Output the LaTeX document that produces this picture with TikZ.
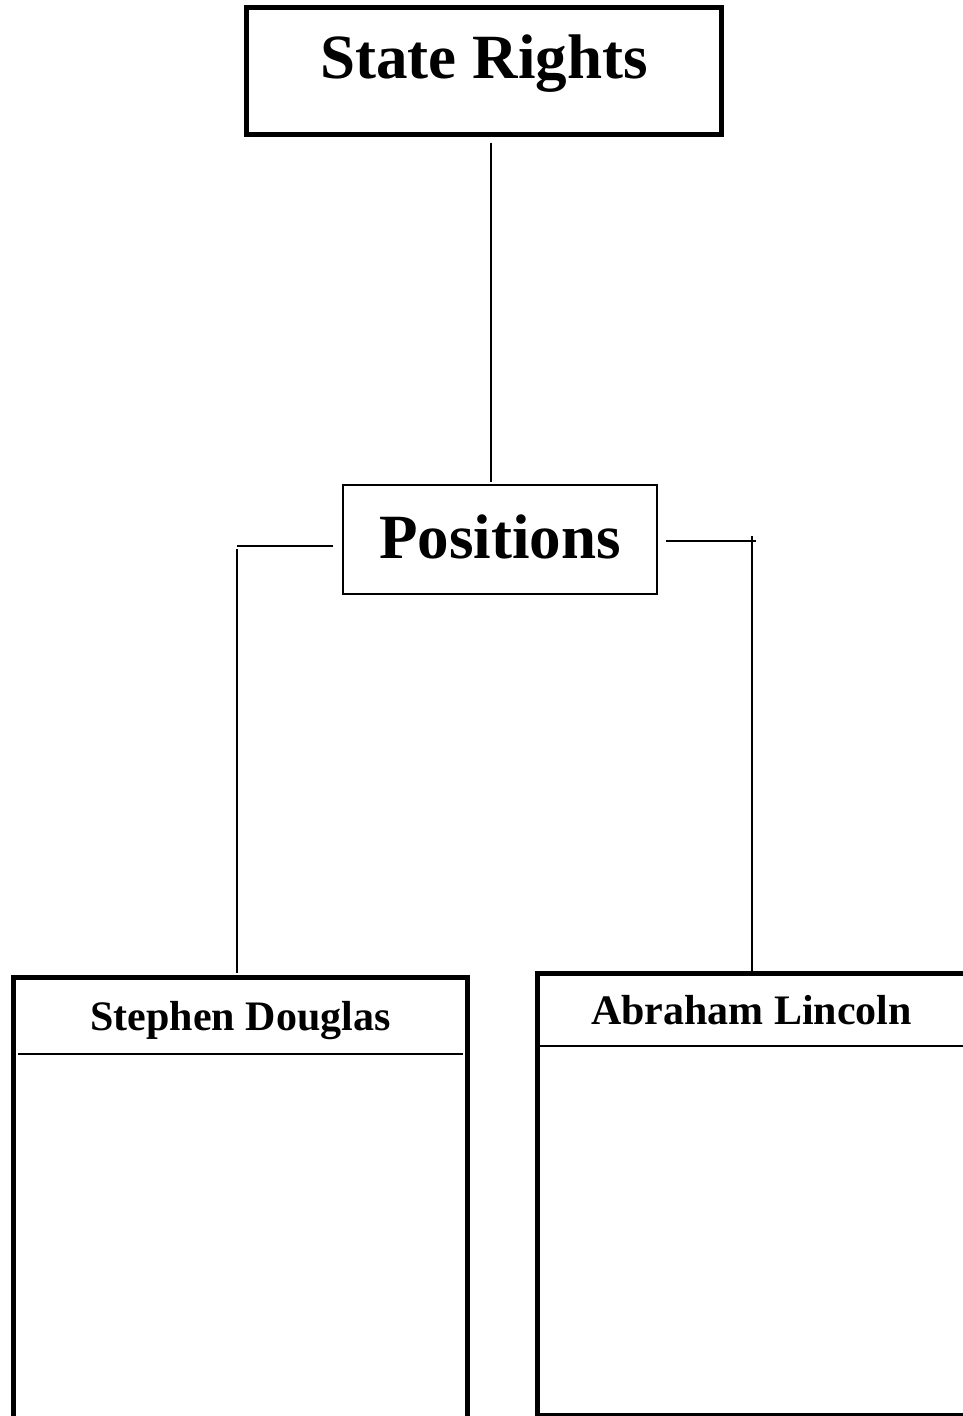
\documentclass[tikz,border=0pt]{standalone}
\usepackage{fontspec}
\setmainfont{Liberation Serif}
\usetikzlibrary{calc}
\begin{document}
\begin{tikzpicture}[x=1pt,y=-1pt,
  heavybox/.style={draw, rectangle, line width=5pt, inner sep=0pt, outer sep=0pt},
  lightbox/.style={draw, rectangle, line width=2pt, inner sep=0pt, outer sep=0pt},
  bigtitle/.style={font=\fontsize{63}{70}\selectfont\bfseries, inner sep=0pt, anchor=base},
  nametitle/.style={font=\fontsize{42}{48}\selectfont\bfseries, inner sep=0pt, anchor=base},
  link/.style={line width=1.5pt},
  divider/.style={line width=2pt}]
\useasboundingbox (0,0) rectangle (962,1416);

% boxes
\node[heavybox, minimum width=474.5pt, minimum height=127pt] (rights) at (483.75,71) {};
\node[lightbox, minimum width=314pt, minimum height=109pt] (positions) at (500,539.5) {};
\node[heavybox, minimum width=454pt, minimum height=463pt] (douglas) at (240.5,1208.5) {};
\node[heavybox, minimum width=463pt, minimum height=442.5pt] (lincoln) at (768.5,1194.25) {};

% titles
\node[bigtitle] (rightstext) at (484,78) {State Rights};
\node[bigtitle] (positionstext) at (500,558) {Positions};
\node[nametitle] (douglastext) at (240.5,1030) {Stephen Douglas};
\node[nametitle] (lincolntext) at (751.5,1024) {Abraham Lincoln};

% header rules inside the two columns
\coordinate (dsplit) at (0,1054);
\coordinate (lsplit) at (0,1046);
\draw[divider] ($(douglas.west |- dsplit)+(4.5,0)$) -- ($(douglas.east |- dsplit)+(-4.5,0)$);
\draw[divider] ($(lincoln.west |- lsplit)+(3,0)$) -- (lincoln.east |- lsplit);

% connectors
\draw[link] ($(rights.south)+(7.25,8)$) -- ($(positions.north)+(-9,-3)$);

\coordinate (dknee) at (237,546);
\draw[link] (dknee) -- ($(dknee -| positions.west)+(-10,0)$);
\draw[link] ($(dknee)+(0,3)$) -- ($(dknee |- douglas.north)+(0,-4)$);

\coordinate (lknee) at (752,541);
\draw[link] ($(lknee -| positions.east)+(9,0)$) -- ($(lknee)+(4,0)$);
\draw[link] ($(lknee)+(0,-5)$) -- ($(lknee |- lincoln.north)+(0,-2)$);
\end{tikzpicture}
\end{document}
